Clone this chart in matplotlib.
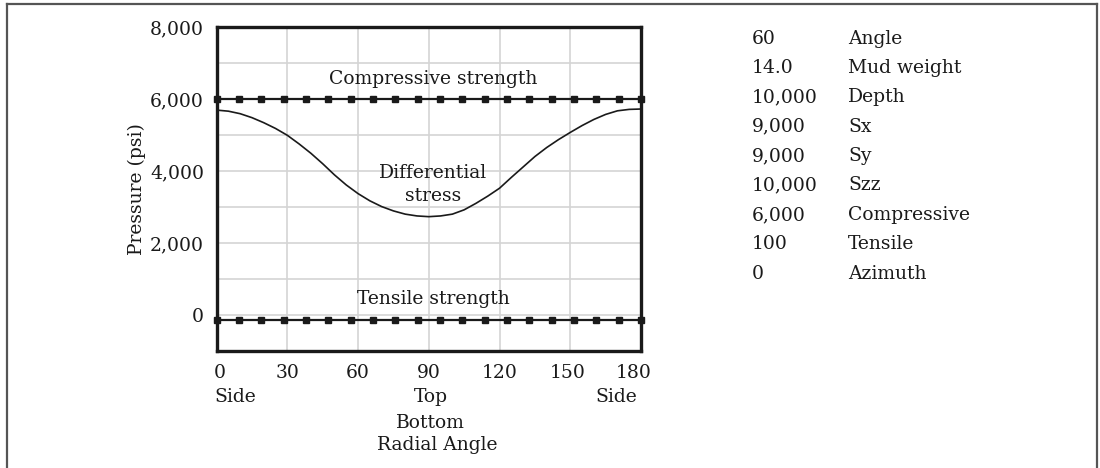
"""
Wellbore stability chart: differential stress around the hole versus
compressive and tensile strength limits.
"""

import matplotlib

matplotlib.use("Agg")
import matplotlib.pyplot as plt
import matplotlib.transforms as mtransforms
import numpy as np
from matplotlib.lines import Line2D
from matplotlib.ticker import FuncFormatter, MultipleLocator

W, H = 1100, 468

# data
angle = [0, 5, 10, 15, 20, 25, 30, 35, 40, 45, 50, 55, 60, 65, 70, 75, 80, 85, 90,
         95, 100, 105, 110, 115, 120, 125, 130, 135, 140, 145, 150, 155, 160, 165, 170, 175, 180]
diff_stress = [5700, 5670, 5600, 5490, 5350, 5190, 5000, 4760, 4500, 4210, 3900, 3620, 3380,
               3180, 3020, 2900, 2810, 2760, 2740, 2760, 2810, 2930, 3110, 3310, 3530, 3830,
               4120, 4410, 4660, 4880, 5080, 5270, 5440, 5580, 5680, 5720, 5730]
limit_angle = np.linspace(0, 180, 20)
compressive = [6000] * 20
tensile = [-120] * 20

x_ticks = [0, 30, 60, 90, 120, 150, 180]
y_ticks = [0, 2000, 4000, 6000, 8000]

param_values = ["60", "14.0", "10,000", "9,000", "9,000", "10,000", "6,000", "100", "0"]
param_names = ["Angle", "Mud weight", "Depth", "Sx", "Sy", "Szz", "Compressive", "Tensile", "Azimuth"]

INK = "#1a1a1a"
FS = 13.5

plt.rcParams.update({"font.family": "DejaVu Serif", "text.color": INK})


def px(fig, x, y, s, **kw):
    fig.text(x / W, 1 - y / H, s, fontsize=kw.pop("fontsize", FS), color=INK, **kw)


fig = plt.figure(figsize=(W / 100, H / 100), dpi=100)
ax = fig.add_axes([216.6 / W, 1 - 351.3 / H, 424.4 / W, 324.0 / H])

ax.plot(angle, diff_stress, color=INK, lw=1.2)
for vals in (compressive, tensile):
    ax.plot(limit_angle, vals, color=INK, lw=1.6, marker="s", ms=4.2, clip_on=False, zorder=4)

ax.set_xlim(0, 180)
ax.set_ylim(-1000, 8000)
ax.set_xticks(x_ticks)
ax.set_yticks(y_ticks)
ax.yaxis.set_minor_locator(MultipleLocator(1000))
ax.yaxis.set_major_formatter(FuncFormatter(lambda v, _: f"{int(v):,}"))
ax.grid(True, which="both", color="#d4d4d4", lw=1.2)
ax.set_axisbelow(True)
ax.tick_params(which="both", length=0, labelsize=FS, colors=INK)
ax.tick_params(axis="y", pad=9)
ax.tick_params(axis="x", pad=9)
for sp in ax.spines.values():
    sp.set_linewidth(2.4)
    sp.set_color(INK)

# nudge the end labels inward like the original
fig.canvas.draw()
xlabels = ax.get_xticklabels()
for lab, dx in ((xlabels[0], 3.5), (xlabels[-1], -7), (xlabels[-2], -3)):
    lab.set_transform(lab.get_transform() + mtransforms.ScaledTranslation(dx / 100, 0, fig.dpi_scale_trans))

ax.set_ylabel("Pressure (psi)", fontsize=FS, color=INK, labelpad=3)

ax.text(91.8, 6560, "Compressive strength", ha="center", va="center", fontsize=FS)
ax.text(91.8, 3950, "Differential", ha="center", va="center", fontsize=FS)
ax.text(91.8, 3310, "stress", ha="center", va="center", fontsize=FS)
ax.text(91.8, 450, "Tensile strength", ha="center", va="center", fontsize=FS)

# extra x-axis labels
px(fig, 214, 397.5, "Side", ha="left", va="center")
px(fig, 430.5, 397.5, "Top", ha="center", va="center")
px(fig, 637, 397.5, "Side", ha="right", va="center")
px(fig, 430, 423.5, "Bottom", ha="center", va="center")
px(fig, 437, 444.5, "Radial Angle", ha="center", va="center")

# parameter table on the right
for i, (v, n) in enumerate(zip(param_values, param_names)):
    y = 38.5 + 29.4 * i
    px(fig, 752, y, v, ha="left", va="center")
    px(fig, 848, y, n, ha="left", va="center")

# outer frame (open at the bottom)
frame = dict(color="#555555", lw=1.6, transform=fig.transFigure)
fig.add_artist(Line2D([7 / W, 7 / W], [0, 1 - 4.3 / H], **frame))
fig.add_artist(Line2D([7 / W, 1097 / W], [1 - 4.3 / H, 1 - 4.3 / H], **frame))
fig.add_artist(Line2D([1097 / W, 1097 / W], [0, 1 - 4.3 / H], **frame))

fig.savefig("out.png", dpi=100)
